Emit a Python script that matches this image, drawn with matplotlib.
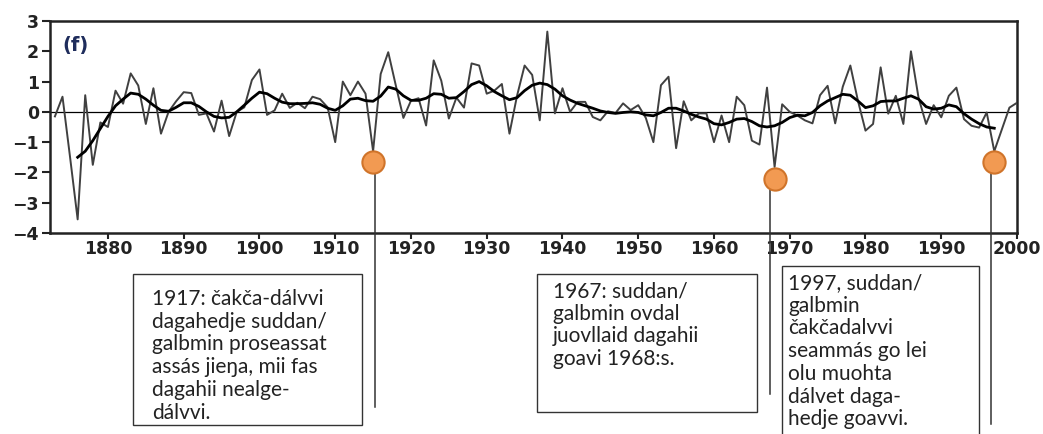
import matplotlib
matplotlib.use("Agg")
import matplotlib.pyplot as plt
from matplotlib.patches import Rectangle

years = list(range(1873, 2001))
annual = [-0.15, 0.5, -1.5, -3.55, 0.55, -1.75, -0.35,
          -0.5, 0.7, 0.27, 1.27, 0.87, -0.4, 0.78, -0.72, 0.0, 0.35,
          0.65, 0.62, -0.1, -0.05, -0.65, 0.37, -0.8, 0.0, 0.15, 1.05,
          1.4, -0.1, 0.05, 0.6, 0.13, 0.3, 0.12, 0.5, 0.42, 0.15,
          -1.0, 1.0, 0.55, 1.0, 0.6, -1.3, 1.25, 1.97, 0.87, -0.2,
          0.37, 0.45, -0.45, 1.7, 1.03, -0.22, 0.47, 0.14, 1.6, 1.53,
          0.6, 0.7, 0.92, -0.72, 0.53, 1.53, 1.22, -0.28, 2.65, -0.05,
          0.78, 0.0, 0.33, 0.33, -0.17, -0.28, 0.02, -0.04, 0.28, 0.06,
          0.22, -0.2, -1.0, 0.88, 1.16, -1.2, 0.35, -0.28, -0.05, -0.05,
          -1.0, -0.12, -1.0, 0.5, 0.22, -0.95, -1.08, 0.8, -1.82, 0.25,
          0.0, -0.12, -0.28, -0.38, 0.55, 0.86, -0.38, 0.83, 1.53, 0.37,
          -0.62, -0.4, 1.47, -0.06, 0.53, -0.4, 2.0, 0.47, -0.4, 0.22,
          -0.18, 0.53, 0.8, -0.24, -0.46, -0.52, -0.02, -1.3, -0.58, 0.14,
          0.3]

smooth_years = list(range(1876, 1998))
smooth = [-1.5, -1.3, -0.95, -0.55,
          -0.15, 0.2, 0.42, 0.62, 0.58, 0.42, 0.22, 0.05, 0.02, 0.15,
          0.3, 0.3, 0.18, 0.0, -0.15, -0.2, -0.18, 0.0, 0.22, 0.45,
          0.65, 0.6, 0.45, 0.32, 0.27, 0.27, 0.28, 0.3, 0.25, 0.12,
          0.05, 0.2, 0.42, 0.45, 0.37, 0.35, 0.52, 0.82, 0.75, 0.53,
          0.38, 0.38, 0.45, 0.6, 0.58, 0.45, 0.47, 0.67, 0.9, 1.0,
          0.86, 0.67, 0.53, 0.4, 0.47, 0.7, 0.88, 0.95, 0.9, 0.75,
          0.53, 0.39, 0.28, 0.2, 0.12, 0.03, -0.02, -0.05, -0.02, 0.0,
          -0.02, -0.1, -0.13, -0.02, 0.12, 0.12, 0.03, -0.08, -0.17, -0.24,
          -0.39, -0.43, -0.35, -0.24, -0.22, -0.32, -0.46, -0.5, -0.46, -0.35,
          -0.19, -0.11, -0.13, -0.02, 0.2, 0.36, 0.47, 0.58, 0.55, 0.36,
          0.14, 0.2, 0.34, 0.36, 0.36, 0.45, 0.53, 0.42, 0.17, 0.09,
          0.12, 0.23, 0.17, -0.06, -0.24, -0.39, -0.5, -0.54]

marker_years = [1915, 1968, 1997]
marker_vals = [-1.65, -2.23, -1.65]
connector_x = [1915.3, 1967.4, 1996.6]
connector_bottom = [-9.75, -9.3, -10.3]

xticks = [1880, 1890, 1900, 1910, 1920, 1930, 1940, 1950, 1960, 1970, 1980, 1990, 2000]
yticks = [3, 2, 1, 0, -1, -2, -3, -4]

notes = [
    "1917: čakča-dálvvi\ndagahedje suddan/\ngalbmin proseassat\nassás jieŋa, mii fas\ndagahii nealge-\ndálvvi.",
    "1967: suddan/\ngalbmin ovdal\njuovllaid dagahii\ngoavi 1968:s.",
    "1997, suddan/\ngalbmin\nčakčadalvvi\nseammás go lei\nolu muohta\ndálvet daga-\nhedje goavvi.",
]

W, H = 1043, 434
fig = plt.figure(figsize=(W / 100, H / 100), dpi=100)
ax = fig.add_axes([50 / W, 1 - 233 / H, (1017 - 50) / W, (233 - 21) / H])

ax.plot(years, annual, color="#404040", lw=1.4, zorder=3)
ax.plot(smooth_years, smooth, color="black", lw=2.0, zorder=4)
ax.axhline(0, color="black", lw=0.9, zorder=2)

ax.set_xlim(1872.35, 2000)
ax.set_ylim(-4, 3)
ax.set_xticks(xticks)
ax.set_yticks(yticks)
ax.tick_params(axis="both", direction="out", width=1.5, colors="#222222",
               labelsize=12.5)
ax.tick_params(axis="y", length=6, pad=2)
ax.tick_params(axis="x", length=4, pad=1)
for lab in ax.get_xticklabels() + ax.get_yticklabels():
    lab.set_fontweight("bold")
for sp in ax.spines.values():
    sp.set_linewidth(1.8)
    sp.set_color("#222222")

ax.text(0.013, 0.885, "(f)", transform=ax.transAxes, fontsize=14,
        fontweight="bold", color="#1f2d5c", va="center", ha="left")

# connectors and markers
for cx, cb, my, mv in zip(connector_x, connector_bottom, marker_years, marker_vals):
    ax.plot([cx, cx], [mv, cb], color="#333333", lw=1.1, clip_on=False, zorder=5)
    ax.plot([my], [mv], marker="o", markersize=16, markerfacecolor="#f29a52",
            markeredgecolor="#d0742a", markeredgewidth=1.5, clip_on=False, zorder=6)

# annotation boxes (pixel layout)
boxes = [(133, 274, 362, 425), (537, 274, 757, 412), (782, 266, 979, 445)]
text_pos = [(152, 289), (553, 281), (788, 273)]
for (x0, y0, x1, y1), (tx, ty), note in zip(boxes, text_pos, notes):
    rect = Rectangle((x0 / W, 1 - y1 / H), (x1 - x0) / W, (y1 - y0) / H,
                     transform=fig.transFigure, facecolor="white",
                     edgecolor="#333333", lw=1.0, clip_on=False)
    fig.add_artist(rect)
    fig.text(tx / W, 1 - ty / H, note, fontsize=15, family="Lato",
             color="#222222", va="top", ha="left", linespacing=1.17)

fig.savefig("out.png", dpi=100)
